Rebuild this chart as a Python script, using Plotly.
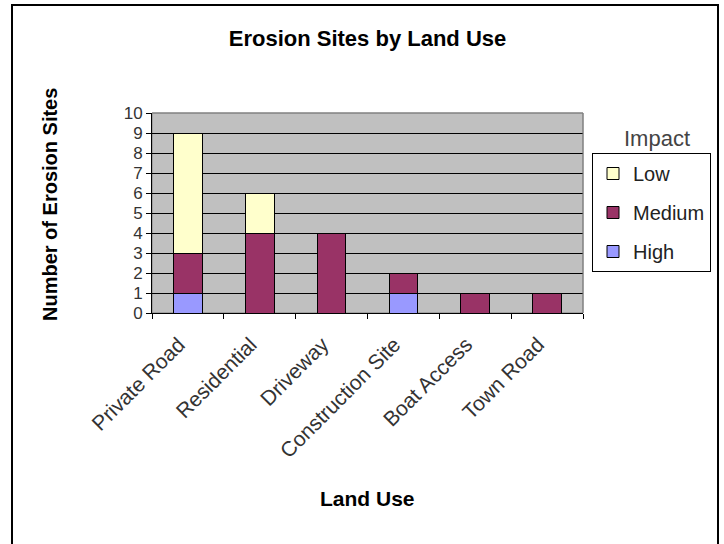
import plotly.graph_objects as go

# Land-use categories and erosion-site counts by impact level
land_use = ["Private Road", "Residential", "Driveway", "Construction Site", "Boat Access", "Town Road"]
high = [1, 0, 0, 1, 0, 0]
medium = [2, 4, 4, 1, 1, 1]
low = [6, 2, 0, 0, 0, 0]

# stacked bottom-up; legend lists them top-down
series = [("High", high, "#9999FF", 3), ("Medium", medium, "#993366", 2), ("Low", low, "#FFFFCC", 1)]

FONT = "Liberation Sans, Arial, sans-serif"

fig = go.Figure()
for name, vals, color, rank in series:
    fig.add_trace(go.Bar(
        x=land_use, y=vals, name=name, legendgroup=name, legendrank=rank,
        marker=dict(color=color, line=dict(color="black", width=1)),
        width=0.4,
    ))

W, H = 724, 544
L, R, T, B = 152, 141, 113, 231
PW, PH = W - L - R, H - T - B


def px(x):
    return (x - L) / PW


def py(y):
    return (H - B - y) / PH


fig.update_layout(
    width=W, height=H,
    margin=dict(l=L, r=R, t=T, b=B),
    barmode="stack",
    paper_bgcolor="white",
    plot_bgcolor="#C0C0C0",
    font=dict(family=FONT, color="#222"),
    title=dict(text="<b>Erosion Sites by Land Use</b>", x=0.5, xref="paper", xanchor="center",
               y=1 - 38 / H, yanchor="middle", font=dict(size=22, color="black")),
    showlegend=True,
    legend=dict(
        x=px(711), y=py(153), xanchor="right", yanchor="top",
        bordercolor="black", borderwidth=1, bgcolor="white",
        font=dict(size=20, family=FONT, color="#222"),
        traceorder="grouped", tracegroupgap=10,
    ),
    xaxis=dict(
        type="category", tickson="boundaries", ticks="outside", ticklen=5, tickcolor="black",
        tickangle=-45, tickfont=dict(size=21, color="#333"), automargin=False,
        ticklabelstandoff=10, ticklabelshift=-9,
        showline=True, linecolor="black", linewidth=1, showgrid=False,
    ),
    yaxis=dict(
        range=[0, 10], dtick=1, ticks="outside", ticklen=5, tickcolor="black",
        tickfont=dict(size=17, color="#333"), automargin=False,
        showline=True, linecolor="black", linewidth=1,
        showgrid=True, gridcolor="black", gridwidth=1, zeroline=False,
    ),
    annotations=[
        dict(text="<b>Number of Erosion Sites</b>", textangle=-90, xref="paper", yref="paper",
             x=px(50), y=py(205), showarrow=False,
             xanchor="center", yanchor="middle", font=dict(size=20, color="black")),
        dict(text="<b>Land Use</b>", xref="paper", yref="paper",
             x=0.5, y=py(498), showarrow=False,
             xanchor="center", yanchor="middle", font=dict(size=21, color="black")),
        dict(text="Impact", xref="paper", yref="paper",
             x=px(657), y=py(138), showarrow=False,
             xanchor="center", yanchor="middle", font=dict(size=22, color="#444")),
    ],
    shapes=[
        # plot-area frame
        dict(type="rect", xref="paper", yref="paper", x0=0, x1=1, y0=0, y1=1,
             line=dict(color="#808080", width=1), layer="below"),
        # grey top and right edges of the plot area
        dict(type="line", xref="paper", yref="paper", x0=0, x1=1, y0=1, y1=1,
             line=dict(color="#808080", width=1), layer="above"),
        dict(type="line", xref="paper", yref="paper", x0=1, x1=1, y0=0, y1=1,
             line=dict(color="#808080", width=1), layer="above"),
        # outer chart border
        dict(type="rect", xref="paper", yref="paper",
             x0=px(12), x1=px(718), y0=py(560), y1=py(5),
             line=dict(color="black", width=2)),
    ],
)

fig.write_html("out.html")
